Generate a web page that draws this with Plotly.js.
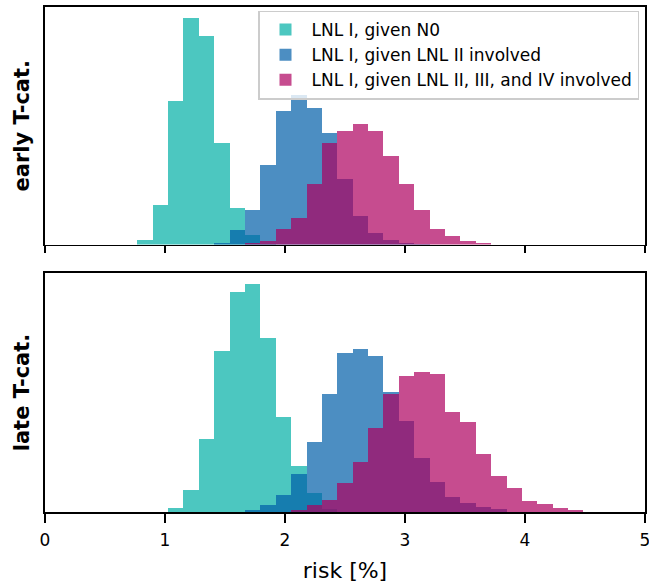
<!DOCTYPE html>
<html>
<head>
<meta charset="utf-8">
<script src="https://cdn.plot.ly/plotly-3.0.1.min.js"></script>
<style>html,body{margin:0;padding:0;background:#fff;}</style>
</head>
<body>
<div id="chart" style="width:649px;height:583px;"></div>
<script>
// Histogram bins: 39 equal bins spanning 0..5 % risk
const NBINS = 39;
const XMIN = 0;
const XMAX = 5;

const seriesNames = [
  "LNL I, given N0",
  "LNL I, given LNL II involved",
  "LNL I, given LNL II, III, and IV involved"
];
const seriesColors = ["rgba(0,175,165,0.7)", "rgba(0,94,168,0.7)", "rgba(174,0,96,0.7)"];

// early T-category: index of first bin and bar heights (arbitrary density units)
const earlyN0Start = 6;
const earlyN0 = [4.5, 39.5, 143, 226, 208.5, 101, 36, 9.5, 0.5];
const earlyIIStart = 11;
const earlyII = [2, 14.5, 34, 79, 133, 149, 136.5, 111.5, 65.5, 28, 11, 4.5, 1.5, 0.5];
const earlyIIIIVStart = 13;
const earlyIIIIV = [1.5, 4, 15.5, 26.5, 60.5, 101.5, 113, 120.5, 113, 88.5, 60, 34, 15, 8, 3.5, 1.2];

// late T-category
const lateN0Start = 8;
const lateN0 = [4, 22, 73, 160.5, 219, 227, 173.5, 95, 46, 19, 3];
const lateIIStart = 12;
const lateII = [0.5, 2, 7, 17, 37.5, 69.5, 117.5, 158.5, 162.5, 156, 119.5, 90.5, 54, 30, 14.5, 9, 5, 2.5, 0.5];
const lateIIIIVStart = 15;
const lateIIIIV = [0.5, 2, 7, 12, 29, 50, 84, 118, 135.5, 140, 137.5, 100, 90, 57.5, 36, 23.5, 10.5, 7.5, 4, 2];

const xTicks = [0, 1, 2, 3, 4, 5];
const panelLabels = ["early T-cat.", "late T-cat."];
const xLabel = "risk [%]";

const binWidth = (XMAX - XMIN) / NBINS;
function centers(start, vals) {
  return vals.map((_, i) => XMIN + (start + i + 0.5) * binWidth);
}
function barTrace(start, vals, idx, xa, ya, showLegend) {
  return {
    type: "bar",
    x: centers(start, vals),
    y: vals,
    width: binWidth,
    name: seriesNames[idx],
    legendgroup: "g" + idx,
    showlegend: showLegend,
    marker: {color: seriesColors[idx], line: {width: 0}},
    xaxis: xa,
    yaxis: ya,
    hoverinfo: "skip"
  };
}

const early = [[earlyN0Start, earlyN0], [earlyIIStart, earlyII], [earlyIIIIVStart, earlyIIIIV]];
const late = [[lateN0Start, lateN0], [lateIIStart, lateII], [lateIIIIVStart, lateIIIIV]];

const data = [];
early.forEach((s, i) => data.push(barTrace(s[0], s[1], i, "x2", "y2", true)));
late.forEach((s, i) => data.push(barTrace(s[0], s[1], i, "x", "y", false)));

const earlyMax = Math.max(...earlyN0, ...earlyII, ...earlyIIIIV) * 1.05;
const lateMax = Math.max(...lateN0, ...lateII, ...lateIIIIV) * 1.05;

const FONT = "DejaVu Sans";
const LW = 1.7;
const frame = {showline: true, mirror: true, linecolor: "#000", linewidth: LW, showgrid: false, zeroline: false};

const layout = {
  width: 649,
  height: 583,
  margin: {l: 45, r: 4, t: 7, b: 71},
  paper_bgcolor: "#fff",
  plot_bgcolor: "#fff",
  barmode: "overlay",
  bargap: 0,
  font: {family: FONT, color: "#000", size: 17},
  showlegend: true,
  legend: {
    x: 0.355, y: 0.993, xanchor: "left", yanchor: "top",
    bgcolor: "rgba(255,255,255,0.8)", bordercolor: "#cccccc", borderwidth: 1.5,
    font: {family: FONT, size: 17, color: "#000"},
    tracegroupgap: 0, itemwidth: 42
  },
  xaxis: Object.assign({}, frame, {
    domain: [0, 1], anchor: "y", range: [XMIN, XMAX],
    tickmode: "array", tickvals: xTicks, ticktext: xTicks.map(String),
    ticks: "outside", ticklen: 9, tickwidth: LW, tickcolor: "#000",
    ticklabelstandoff: 3, ticklabeloverflow: "allow",
    tickfont: {family: FONT, size: 17},
    title: {text: xLabel, font: {family: FONT, size: 22}, standoff: 14}
  }),
  xaxis2: Object.assign({}, frame, {
    domain: [0, 1], anchor: "y2", range: [XMIN, XMAX], matches: "x",
    tickmode: "array", tickvals: xTicks, showticklabels: false,
    ticks: "outside", ticklen: 7, tickwidth: LW, tickcolor: "#000"
  }),
  yaxis: Object.assign({}, frame, {
    domain: [0, 0.4733], anchor: "x", range: [0, lateMax],
    showticklabels: false, ticks: "",
    title: {text: "<b>" + panelLabels[1] + "</b>", font: {family: FONT, size: 21}, standoff: 8}
  }),
  yaxis2: Object.assign({}, frame, {
    domain: [0.5297, 1], anchor: "x2", range: [0, earlyMax],
    showticklabels: false, ticks: "",
    title: {text: "<b>" + panelLabels[0] + "</b>", font: {family: FONT, size: 21}, standoff: 8}
  })
};

Plotly.newPlot("chart", data, layout, {displayModeBar: false, staticPlot: true});
</script>
</body>
</html>
